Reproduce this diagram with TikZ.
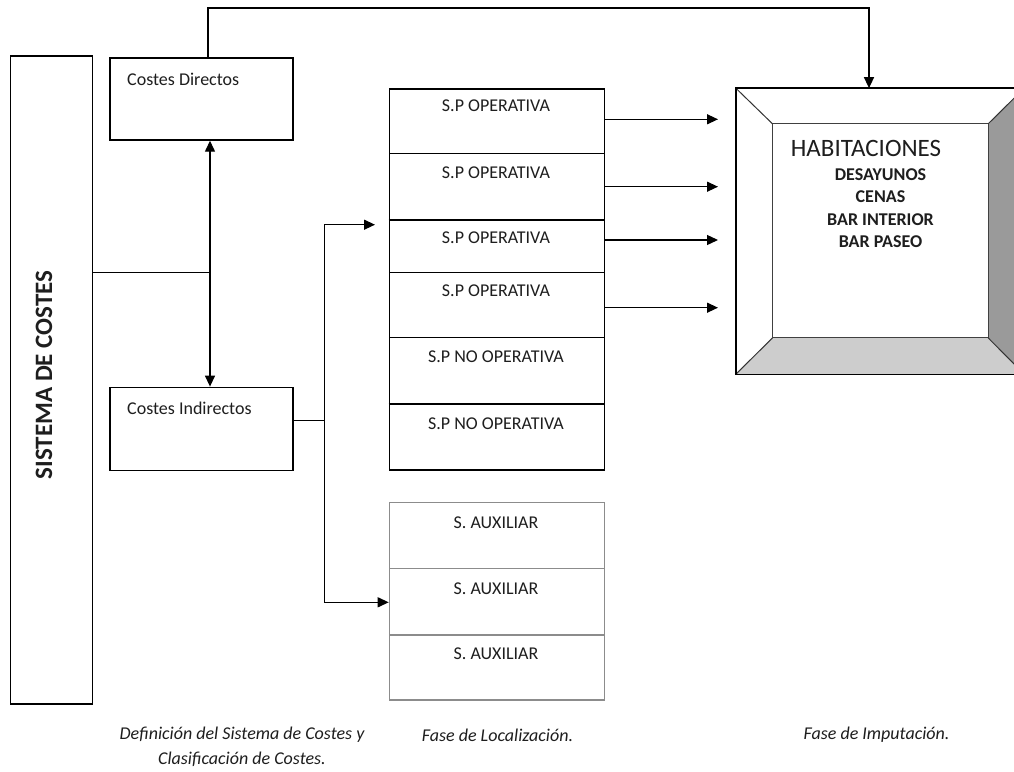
\documentclass[tikz,border=0pt]{standalone}
\usepackage{fontspec}
\setmainfont{Carlito}
\usetikzlibrary{arrows.meta,calc}
\definecolor{txt}{HTML}{1E1E1E}
\definecolor{darkface}{HTML}{9A9A9A}
\definecolor{lightface}{HTML}{CDCDCD}
\definecolor{auxline}{HTML}{8C8C8C}
\tikzset{
  box/.style={draw=black,line width=1.4pt,rectangle,inner sep=0pt},
  cellbox/.style={draw=black,line width=1.2pt,rectangle,inner sep=0pt,minimum width=215pt},
  auxbox/.style={draw=auxline,line width=1.2pt,rectangle,inner sep=0pt,minimum width=215pt},
  lbl/.style={text=txt,inner sep=0pt,font=\fontsize{18}{22}\selectfont},
  captext/.style={text=txt,inner sep=0pt,font=\fontsize{18}{24.5}\selectfont\itshape,align=center},
  conn/.style={line width=1.3pt,draw=black},
  arr/.style={conn,-{Triangle[length=11pt,width=10pt]}},
  arrboth/.style={conn,{Triangle[length=11pt,width=10pt]}-{Triangle[length=11pt,width=10pt]}}
}
\begin{document}
\begin{tikzpicture}[x=1pt,y=-1pt]
\useasboundingbox (0,0) rectangle (1014,771);
\fill[white] (0,0) rectangle (1014,771);

% Sistema de costes
\node[box,minimum width=82.5pt,minimum height=648pt] (sis) at (51.5,380) {};
\node[lbl,rotate=90,font=\fontsize{25}{30}\selectfont\bfseries] (sist) at (44,375) {SISTEMA DE COSTES};

% Costes directos / indirectos
\node[box,minimum width=183pt,minimum height=82pt] (cd) at (201.5,99) {};
\node[lbl,anchor=west] (cdt) at (127,79) {Costes Directos};
\node[box,minimum width=183pt,minimum height=83pt] (ci) at (201.5,428.8) {};
\node[lbl,anchor=west] (cit) at (127,408) {Costes Indirectos};

% S.P stack
\node[cellbox,minimum height=64.3pt] (c1) at (496.8,121.2) {};
\node[cellbox,minimum height=66pt] (c2) at (496.8,186.3) {};
\node[cellbox,minimum height=53pt] (c3) at (496.8,245.8) {};
\node[cellbox,minimum height=65.4pt] (c4) at (496.8,305) {};
\node[cellbox,minimum height=65.6pt] (c5) at (496.8,370.5) {};
\node[cellbox,minimum height=66.7pt] (c6) at (496.8,436.7) {};
\draw[line width=2.6pt] (c2.south west) -- (c2.south east);
\draw[line width=2.6pt] (c5.south west) -- (c5.south east);
\node[lbl] (c1t) at (496,106) {S.P OPERATIVA};
\node[lbl] (c2t) at (496,172.7) {S.P OPERATIVA};
\node[lbl] (c3t) at (496,237.3) {S.P OPERATIVA};
\node[lbl] (c4t) at (496,290.7) {S.P OPERATIVA};
\node[lbl] (c5t) at (496,356.7) {S.P NO OPERATIVA};
\node[lbl] (c6t) at (496,423.3) {S.P NO OPERATIVA};

% Auxiliar stack
\node[auxbox,minimum height=66pt] (a1) at (496.8,535.7) {};
\node[auxbox,minimum height=66.3pt] (a2) at (496.8,601.9) {};
\node[auxbox,minimum height=65pt] (a3) at (496.8,667.5) {};
\node[lbl] (a1t) at (496,522.3) {S. AUXILIAR};
\node[lbl] (a2t) at (496,588.3) {S. AUXILIAR};
\node[lbl] (a3t) at (496,654) {S. AUXILIAR};

% Beveled box
\node[rectangle,inner sep=0pt,minimum width=288pt,minimum height=285.7pt] (hab) at (880,231.2) {};
\node[rectangle,inner sep=0pt,minimum width=215.3pt,minimum height=213.7pt] (habin) at (880.35,230.85) {};
\fill[white] (hab.north west) -- (hab.north east) -- (habin.north east) -- (habin.north west) -- cycle;
\fill[white] (hab.north west) -- (habin.north west) -- (habin.south west) -- (hab.south west) -- cycle;
\fill[darkface] (hab.north east) -- (hab.south east) -- (habin.south east) -- (habin.north east) -- cycle;
\fill[lightface] (hab.south west) -- (hab.south east) -- (habin.south east) -- (habin.south west) -- cycle;
\fill[white] (habin.north west) rectangle (habin.south east);
\draw[line width=1.0pt,draw=black!75] (habin.north west) rectangle (habin.south east);
\draw[line width=1.0pt,draw=black!80] (hab.north west) -- (habin.north west)
  (hab.north east) -- (habin.north east) (hab.south west) -- (habin.south west)
  (hab.south east) -- (habin.south east);
\draw[line width=1.5pt] (hab.north west) rectangle (hab.south east);
\node[lbl,font=\fontsize{25}{30}\selectfont] (habt) at (866,148) {HABITACIONES};
\node[lbl,align=center,font=\fontsize{18}{22.5}\selectfont\bfseries] (habl) at (880.5,208) {DESAYUNOS\\CENAS\\BAR INTERIOR\\BAR PASEO};

% Connectors
\coordinate (tl) at (208,8);
\coordinate (tr) at (869,8);
\draw[arr] (tl |- cd.north) -- (tl) -- (tr) -- (tr |- hab.north);

\coordinate (vx) at (210,272.7);
\draw[conn] (sis.east |- vx) -- (vx);
\draw[arrboth] (vx |- cd.south) -- (vx |- ci.north);

\coordinate (jx) at (324.3,420.3);
\coordinate (jt) at (324.3,224.7);
\coordinate (jb) at (324.3,602.3);
\coordinate (spin) at (375,224.7);
\draw[conn] (ci.east |- jx) -- (jx);
\draw[arr] (jb) -- (jt) -- (spin);
\draw[arr] (jt) -- (jb) -- (a2.west |- jb);

\coordinate (t1) at (718,119.3);
\coordinate (t2) at (718,186.7);
\coordinate (t3) at (718,240);
\coordinate (t4) at (718,307.7);
\draw[arr] (c1.east |- t1) -- (t1);
\draw[arr] (c2.east |- t2) -- (t2);
\draw[arr] (c3.east |- t3) -- (t3);
\draw[arr] (c4.east |- t4) -- (t4);

% Captions
\node[captext] (cap1) at (242,747) {Definición del Sistema de Costes y\\Clasificación de Costes.};
\node[captext] (cap2) at (497.5,735) {Fase de Localización.};
\node[captext] (cap3) at (876.5,735) {Fase de Imputación.};
\end{tikzpicture}
\end{document}
